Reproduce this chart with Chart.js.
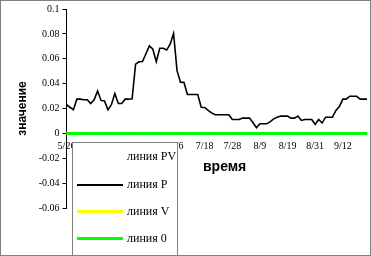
<!DOCTYPE html>
<html>
<head>
<meta charset="utf-8">
<script src="https://cdn.jsdelivr.net/npm/chart.js@4.4.1/dist/chart.umd.min.js"></script>
<style>
  html, body { margin: 0; padding: 0; background: #fff; overflow: hidden; }
  #wrap { position: relative; width: 371px; height: 256px; overflow: hidden; }
  #c { position: absolute; left: 0; top: 0; }
  #frame { position: absolute; left: 0; top: 0; width: 371px; height: 256px; box-sizing: border-box;
           border: 1px solid #808080; pointer-events: none; }
  #xtitle { position: absolute; left: 203px; top: 158px; font: bold 14px "Liberation Sans", Arial, sans-serif; }
  #legend { position: absolute; left: 72px; top: 142px; width: 106px; height: 130px; box-sizing: border-box;
            border: 1px solid #808080; background: #fff; font: 12px "Liberation Serif", "Times New Roman", serif; }
  .item { position: absolute; left: 54px; white-space: nowrap; }
  .sample { position: absolute; left: 4px; width: 46px; }
</style>
</head>
<body>
<div id="wrap">
  <canvas id="c" width="371" height="256"></canvas>
  <div id="xtitle">время</div>
  <div id="legend">
    <div class="item" style="top:6px">линия PV</div>
    <div class="sample" style="top:41px;height:2px;background:#000"></div>
    <div class="item" style="top:34px">линия P</div>
    <div class="sample" style="top:67px;height:3px;background:#ffff00"></div>
    <div class="item" style="top:61px">линия V</div>
    <div class="sample" style="top:94px;height:3px;background:#00ff00"></div>
    <div class="item" style="top:88px">линия 0</div>
  </div>
  <div id="frame"></div>
</div>
<script>
// даты (торговые дни)
const dates = [
  '5/26','5/29','5/30','5/31','6/1','6/2','6/4','6/5',
  '6/6','6/7','6/8','6/9','6/11','6/13','6/14','6/15',
  '6/16','6/18','6/19','6/20','6/21','6/22','6/23','6/25',
  '6/26','6/27','6/28','6/29','6/30','7/3','7/4','7/5',
  '7/6','7/7','7/10','7/11','7/12','7/13','7/14','7/17',
  '7/18','7/19','7/20','7/21','7/24','7/25','7/26','7/27',
  '7/28','7/31','8/1','8/2','8/3','8/4','8/7','8/8',
  '8/9','8/10','8/11','8/14','8/15','8/16','8/17','8/18',
  '8/19','8/21','8/22','8/23','8/24','8/25','8/28','8/30',
  '8/31','9/1','9/4','9/5','9/6','9/7','9/8','9/11',
  '9/12','9/13','9/14','9/15','9/18','9/19','9/20','9/21'
];

// линия P
const lineP = [
  0.023, 0.021, 0.019, 0.0275, 0.0275, 0.027, 0.027, 0.024,
  0.027, 0.034, 0.0265, 0.026, 0.019, 0.023, 0.032, 0.024,
  0.024, 0.0275, 0.0275, 0.0278, 0.0557, 0.0576, 0.0578, 0.064,
  0.0704, 0.0677, 0.0576, 0.0685, 0.0685, 0.067, 0.0717, 0.0803,
  0.0504, 0.0412, 0.041, 0.0312, 0.0312, 0.0312, 0.0312, 0.021,
  0.0208, 0.0185, 0.0165, 0.015, 0.015, 0.015, 0.015, 0.015,
  0.0112, 0.0112, 0.0112, 0.0123, 0.0123, 0.0123, 0.0085, 0.0045,
  0.0077, 0.0077, 0.0077, 0.0095, 0.0117, 0.013, 0.0139, 0.0139,
  0.0139, 0.0123, 0.0123, 0.0139, 0.0104, 0.0112, 0.0112, 0.0112,
  0.0072, 0.0112, 0.0083, 0.013, 0.013, 0.013, 0.0184, 0.0216,
  0.0275, 0.0275, 0.0299, 0.0299, 0.0299, 0.0275, 0.0275, 0.0275
];

// линия V и линия 0 лежат на нуле
const lineV = dates.map(() => 0);
const line0 = dates.map(() => 0);

const yTicks = [0.1, 0.08, 0.06, 0.04, 0.02, 0, -0.02, -0.04, -0.06];
const labelEvery = 8;

const serif = '"Liberation Serif", "Times New Roman", serif';

new Chart(document.getElementById('c'), {
  type: 'line',
  data: {
    labels: dates,
    datasets: [
      { label: 'линия V', data: lineV, borderColor: '#ffff00', borderWidth: 3, pointRadius: 0, order: 3 },
      { label: 'линия 0', data: line0, borderColor: '#00ff00', borderWidth: 3,
        pointRadius: 1, pointStyle: 'rect', pointBackgroundColor: '#33cc33', pointBorderWidth: 0, order: 2 },
      { label: 'линия P', data: lineP, borderColor: '#000', borderWidth: 1.6, pointRadius: 0, tension: 0, order: 1 }
    ]
  },
  options: {
    responsive: false,
    animation: false,
    events: [],
    layout: { padding: { top: 8, right: 1, bottom: 48, left: 0 } },
    plugins: { legend: { display: false }, tooltip: { enabled: false } },
    scales: {
      x: {
        position: { y: 0 },
        grid: { display: false, drawTicks: false },
        border: { display: false },
        ticks: {
          autoSkip: false, maxRotation: 0, padding: 7, color: '#000',
          font: { family: serif, size: 10 },
          callback: function (v, i) { return i % labelEvery === 0 ? dates[i] : null; }
        }
      },
      y: {
        min: -0.06, max: 0.1,
        afterFit: function (s) { s.width = 66.5; },
        afterBuildTicks: function (s) { s.ticks = yTicks.map(v => ({ value: v })); },
        grid: { drawOnChartArea: false, tickLength: 4, color: '#000' },
        border: { color: '#000', width: 1 },
        ticks: {
          color: '#000', padding: 3,
          font: { family: serif, size: 10 },
          callback: function (v) { return String(+v.toFixed(2)); }
        },
        title: {
          display: true, text: 'значение', color: '#000',
          font: { family: '"Liberation Sans", Arial, sans-serif', size: 12, weight: 'bold' },
          padding: { top: 15, bottom: 0 }
        }
      }
    }
  }
});
</script>
</body>
</html>
